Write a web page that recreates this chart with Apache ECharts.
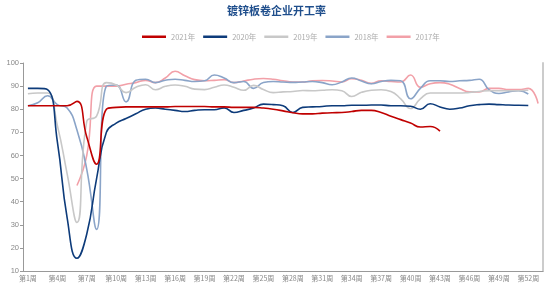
<!DOCTYPE html>
<html><head><meta charset="utf-8">
<script src="https://cdn.jsdelivr.net/npm/echarts@6/dist/echarts.min.js"></script>
<style>html,body{margin:0;padding:0;background:#fff}#c{width:550px;height:287px}</style>
</head><body><div id="c"></div>
<script>
const titleText = '镀锌板卷企业开工率';
const weeks = [];
for (let i = 1; i <= 53; i++) weeks.push('第' + i + '周');
const seriesNames = ['2021年', '2020年', '2019年', '2018年', '2017年'];
const y2021 = [81.5,81.5,81.5,81.5,81.5,83.4,68,56.2,80,80.8,81,81,81,81,81,81.2,81.2,81.2,81.2,81,81,80.8,80.8,80.8,80.5,80,79.3,78.5,78,78,78.3,78.5,78.6,79,79.5,79.5,78.6,77,75.5,74,72.3,72.5,70.5];
const y2020 = [89,89,88.5,66,33,15.5,26,50,70,74,76,78,80,80.5,80,79.5,79,79.5,79.8,79.8,80.6,78.6,79.5,80.5,82.2,82,81.5,78.6,80.8,81,81.2,81.5,81.5,81.7,81.7,81.8,81.8,81.5,81.5,81.3,80,82.4,81,80,80.5,81.5,82,82.2,82,81.8,81.7,81.6];
const y2019 = [86.7,87,87,73,52,31,74.7,77,91.5,90.5,87.2,89.5,90.6,88.4,89.9,90.5,89.9,88.7,88.5,89.5,90.5,89.5,88.2,90.3,88.5,87.2,87.5,87.7,88.1,88,88.2,88.4,88,85.5,87.3,88.2,88.4,87.7,84.5,80.3,84.5,87,87,87,87,87.3,87.7,88,88,88,88,88.2];
const y2018 = [81.5,82.8,85.8,82,80.5,71,54,28,90,90.5,83.2,92.5,93,91.5,92.5,93,92.5,92,92.3,94.8,93.5,91.5,92,89,91.6,92,91.8,91.6,91.8,92,91.5,90.6,91.8,93.5,92.2,91,92,92.5,92.3,84.5,89,92.3,92.3,92,92.3,92.5,93,88.5,86.8,87.5,88,86.6];
const y2017 = [null,null,null,null,null,47,60,90,90,90,90.8,91.5,92.5,91.5,93.5,96.4,94.5,92.8,92.3,92.5,92.8,91.5,92.2,93,93.3,93,92.3,91.8,91.8,92.3,92.4,92.2,91.8,93.2,92.5,91.2,92.3,92,91.8,94.8,89.5,91,91.5,90.8,89,87.5,87.5,89,89,88.5,88.5,89,82.5];
const colors = ['#c00000', '#0d3b7a', '#c8c8c8', '#8aa4c8', '#f2a0a8'];
const dataList = [y2021, y2020, y2019, y2018, y2017];

const chart = echarts.init(document.getElementById('c'), null, {renderer: 'canvas'});
chart.setOption({
  animation: false,
  title: {
    text: titleText, left: 222, top: 0,
    textStyle: {fontSize: 11, fontWeight: 'bold', color: '#1f4e8c', fontFamily: 'Noto Sans CJK SC'}
  },
  legend: {
    data: seriesNames, left: 137, top: 28, icon: 'rect', itemWidth: 24, itemHeight: 2.5, itemGap: 8,
    textStyle: {fontSize: 7.5, color: '#aaa', fontFamily: 'Noto Sans CJK SC'}
  },
  grid: {left: 23, right: 7, top: 63, bottom: 16, containLabel: false},
  xAxis: {
    type: 'category', data: weeks, boundaryGap: true,
    axisLine: {lineStyle: {color: '#999'}},
    axisTick: {interval: 2, length: 3, lineStyle: {color: '#999'}},
    axisLabel: {interval: 2, fontSize: 7, color: '#888', margin: 4, fontFamily: 'Noto Sans CJK SC'}
  },
  yAxis: [{
    type: 'value', min: 10, max: 100, interval: 10,
    axisLine: {show: true, lineStyle: {color: '#999'}},
    axisTick: {show: true, length: 3, lineStyle: {color: '#999'}},
    axisLabel: {fontSize: 7.5, color: '#888', margin: 4},
    splitLine: {show: false}
  }, {
    type: 'value', min: 10, max: 100, interval: 10, position: 'right',
    axisLine: {show: true, lineStyle: {color: '#ccc', width: 2}},
    axisTick: {show: false}, axisLabel: {show: false}, splitLine: {show: false}
  }],
  series: seriesNames.map((n, k) => ({
    name: n, type: 'line', data: dataList[k], smooth: true, symbol: 'none',
    lineStyle: {width: 1.6, color: colors[k]}, itemStyle: {color: colors[k]},
    z: 10 - k
  }))
});
</script></body></html>
